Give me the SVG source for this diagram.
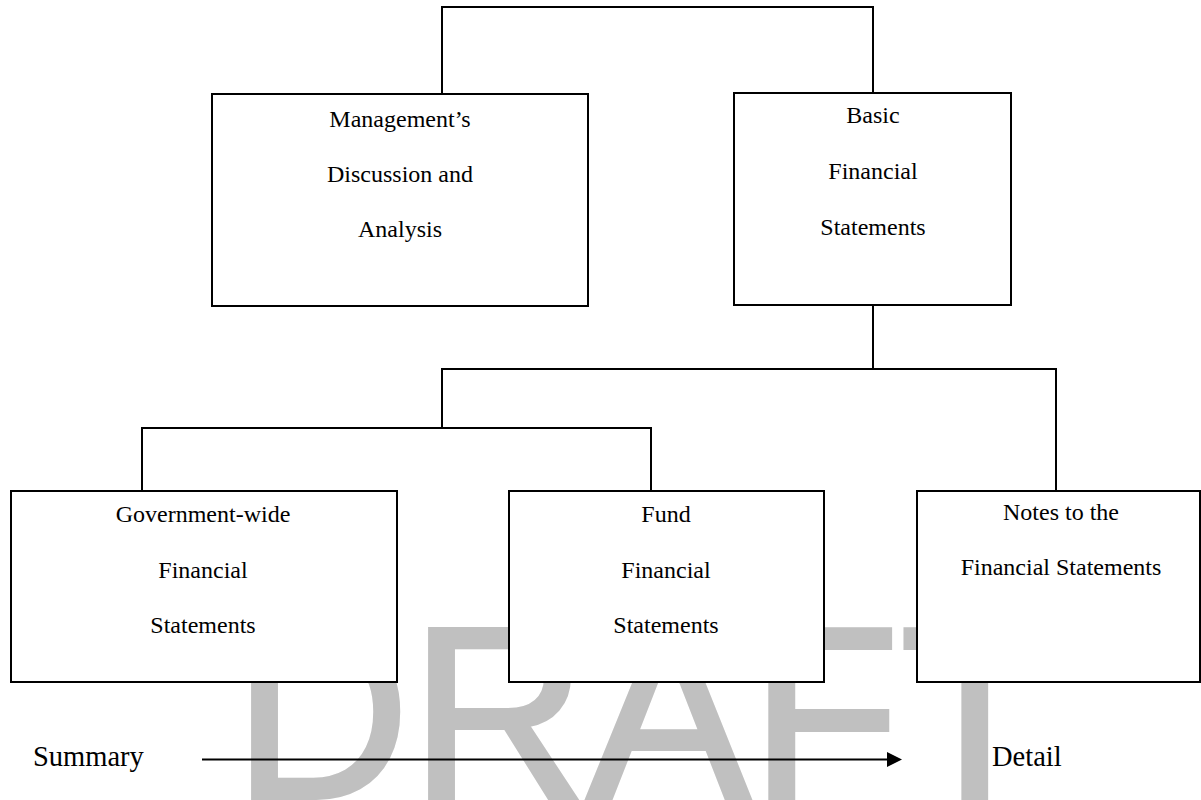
<svg xmlns="http://www.w3.org/2000/svg" width="1201" height="800" viewBox="0 0 1201 800">
<style>
.box{fill:#fff;stroke:#000;stroke-width:2}
.t{font-family:"Liberation Serif","Times New Roman",serif;font-size:24px;fill:#000;text-anchor:middle}
.lbl{font-family:"Liberation Serif","Times New Roman",serif;font-size:28.5px;fill:#000}
.c{fill:none;stroke:#000;stroke-width:2}
.wm{font-family:"Liberation Sans",Arial,sans-serif;font-size:245px;fill:#c0c0c0;stroke:#c0c0c0;stroke-width:4;stroke-linejoin:miter}
</style>
<rect width="1201" height="800" fill="#fff"/>
<text class="wm" x="233" y="798">DRAFT</text>
<g id="connectors">
<polyline class="c" points="442,94 442,7 873,7 873,93"/>
<line class="c" x1="873" y1="305" x2="873" y2="369"/>
<polyline class="c" points="442,428 442,369 1056,369 1056,491"/>
<polyline class="c" points="142,491 142,428 651,428 651,491"/>
<line class="c" x1="202" y1="759.5" x2="889" y2="759.5"/>
<polygon points="887,752 902,759.5 887,767" fill="#000"/>
</g>
<g id="mdna">
<rect class="box" x="212" y="94" width="376" height="212"/>
<text class="t" x="400" y="127">Management’s</text>
<text class="t" x="400" y="182">Discussion and</text>
<text class="t" x="400" y="237">Analysis</text>
</g>
<g id="basic">
<rect class="box" x="734" y="93" width="277" height="212"/>
<text class="t" x="873" y="123">Basic</text>
<text class="t" x="873" y="179">Financial</text>
<text class="t" x="873" y="235">Statements</text>
</g>
<g id="govwide">
<rect class="box" x="11" y="491" width="386" height="191"/>
<text class="t" x="203" y="522">Government-wide</text>
<text class="t" x="203" y="578">Financial</text>
<text class="t" x="203" y="633">Statements</text>
</g>
<g id="fund">
<rect class="box" x="509" y="491" width="315" height="191"/>
<text class="t" x="666" y="522">Fund</text>
<text class="t" x="666" y="578">Financial</text>
<text class="t" x="666" y="633">Statements</text>
</g>
<g id="notes">
<rect class="box" x="917" y="491" width="283" height="191"/>
<text class="t" x="1061" y="520">Notes to the</text>
<text class="t" x="1061" y="575">Financial Statements</text>
</g>
<g id="summary"><text class="lbl" x="33" y="766">Summary</text></g>
<g id="detail"><text class="lbl" x="992" y="766">Detail</text></g>
</svg>
